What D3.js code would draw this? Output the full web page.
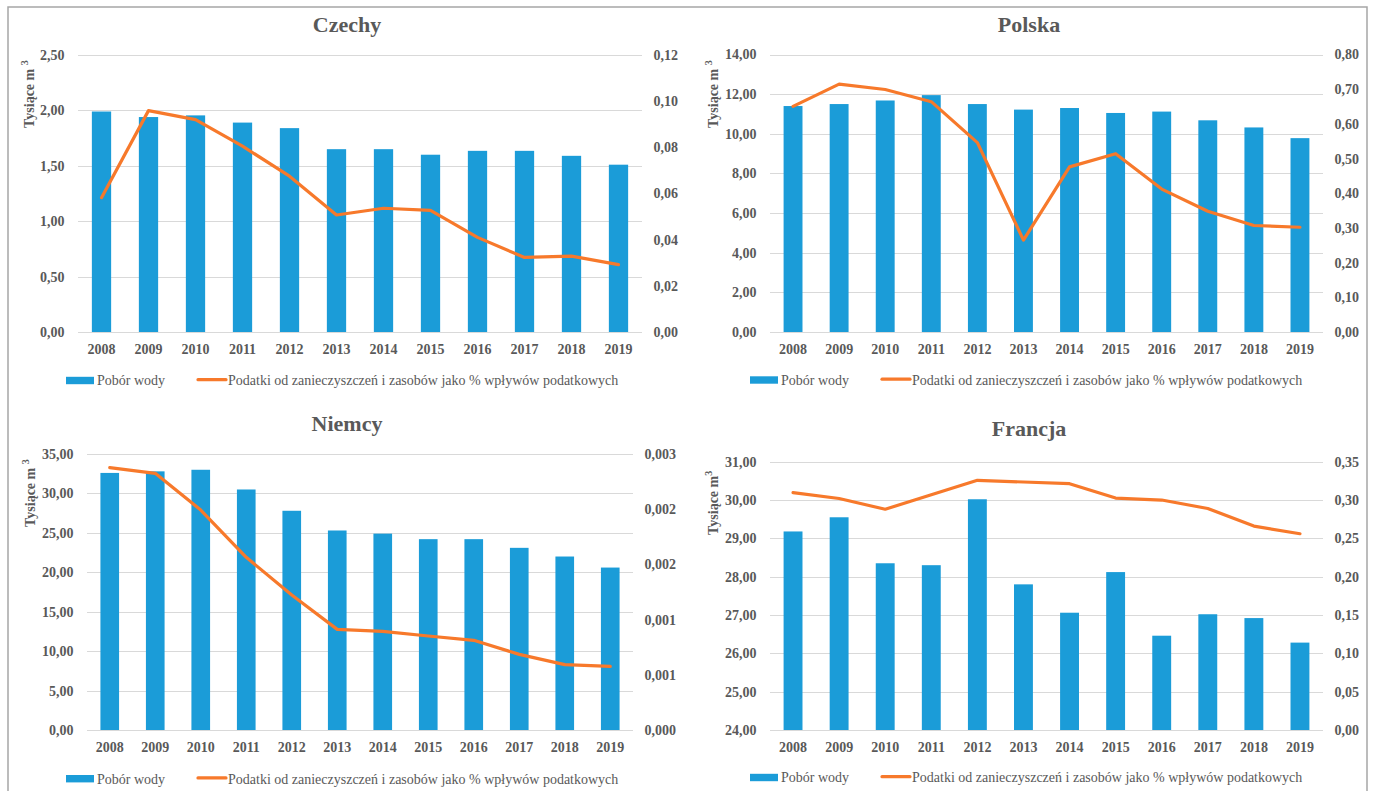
<!DOCTYPE html>
<html><head><meta charset="utf-8">
<script src="https://cdn.jsdelivr.net/npm/d3@7"></script>
<style>body{margin:0;background:#fff;} svg{display:block}</style>
</head><body><svg id="c" width="1373" height="791"></svg>
<script>
const years = ["2008","2009","2010","2011","2012","2013","2014","2015","2016","2017","2018","2019"];

const czWater = [1.99,1.94,1.955,1.89,1.84,1.65,1.65,1.60,1.635,1.635,1.59,1.51];
const czTax   = [0.0582,0.0959,0.0920,0.0805,0.0675,0.0507,0.0536,0.0527,0.0410,0.0323,0.0329,0.0292];
const plWater = [11.4,11.5,11.68,11.95,11.5,11.22,11.3,11.05,11.12,10.68,10.32,9.78];
const plTax   = [0.6505,0.7147,0.699,0.664,0.546,0.265,0.476,0.514,0.412,0.348,0.307,0.302];
const deWater = [32.6,32.8,33.0,30.5,27.8,25.3,24.9,24.2,24.2,23.1,22.0,20.6];
const deTax   = [0.002851,0.00279,0.002391,0.001877,0.001467,0.001094,0.001072,0.001022,0.000975,0.000822,0.00071,0.000692];
const frWater = [29.18,29.55,28.35,28.3,30.02,27.8,27.06,28.12,26.46,27.02,26.92,26.28];
const frTax   = [0.3096,0.302,0.288,0.307,0.3257,0.3235,0.3213,0.3026,0.300,0.289,0.266,0.256];

const czLeftTicks  = [0,0.5,1.0,1.5,2.0,2.5];
const czRightTicks = [0,0.02,0.04,0.06,0.08,0.10,0.12];
const plLeftTicks  = [0,2,4,6,8,10,12,14];
const plRightTicks = [0,0.1,0.2,0.3,0.4,0.5,0.6,0.7,0.8];
const deLeftTicks  = [0,5,10,15,20,25,30,35];
const deRightTicks = [0,0.0006,0.0012,0.0018,0.0024,0.003];
const frLeftTicks  = [24,25,26,27,28,29,30,31];
const frRightTicks = [0,0.05,0.10,0.15,0.20,0.25,0.30,0.35];

const titles = ["Czechy","Polska","Niemcy","Francja"];
const legendLabels = ["Pobór wody","Podatki od zanieczyszczeń i zasobów jako % wpływów podatkowych"];

const BLUE = "#1b9cd8", ORANGE = "#f7792b", GRAY = "#595959", GRID = "#d9d9d9";

const panels = [
  {title:titles[0], water:czWater, tax:czTax, lt:czLeftTicks, rt:czRightTicks, ld:[0,2.5], rd:[0,0.12], lf:2, rf:2,
   x0:78, x1:642, y0:55, y1:332, tx:347, ty:32, legX:66, legY:380.5, ytX:34, ytY:128, ytText:"Tysiące m ", sup:"3"},
  {title:titles[1], water:plWater, tax:plTax, lt:plLeftTicks, rt:plRightTicks, ld:[0,14], rd:[0,0.8], lf:2, rf:2,
   x0:770, x1:1323, y0:54.5, y1:332, tx:1029, ty:32, legX:750, legY:380, ytX:718, ytY:128, ytText:"Tysiące m ", sup:"3"},
  {title:titles[2], water:deWater, tax:deTax, lt:deLeftTicks, rt:deRightTicks, ld:[0,35], rd:[0,0.003], lf:2, rf:3,
   x0:87, x1:633, y0:454, y1:730, tx:347, ty:431, legX:66, legY:778.7, ytX:35, ytY:527, ytText:"Tysiące m ", sup:"3"},
  {title:titles[3], water:frWater, tax:frTax, lt:frLeftTicks, rt:frRightTicks, ld:[24,31], rd:[0,0.35], lf:2, rf:2,
   x0:770, x1:1323, y0:461.7, y1:730, tx:1029, ty:436, legX:750, legY:777.5, ytX:718, ytY:535, ytText:"Tysiące  m", sup:"3"}
];

const svg = d3.select("#c");
svg.append("rect").attr("x",8).attr("y",7).attr("width",1359).attr("height",800)
  .attr("fill","none").attr("stroke","#a6a6a6").attr("stroke-width",1.5);

const fmt = (d, n) => d3.format("." + n + "f")(d).replace(".", ",");
const serif = "'Liberation Serif','Times New Roman',serif";

panels.forEach(p => {
  const g = svg.append("g");
  const x = d3.scaleBand().domain(years).range([p.x0, p.x1]).padding(0);
  const yl = d3.scaleLinear().domain(p.ld).range([p.y1, p.y0]);
  const yr = d3.scaleLinear().domain(p.rd).range([p.y1, p.y0]);

  // gridlines
  g.append("g").selectAll("line").data(p.lt).join("line")
    .attr("x1", p.x0).attr("x2", p.x1)
    .attr("y1", d => Math.round(yl(d)) + 0.5).attr("y2", d => Math.round(yl(d)) + 0.5)
    .attr("stroke", GRID).attr("stroke-width", 1);

  // left axis
  const la = d3.axisLeft(yl).tickValues(p.lt).tickFormat(d => fmt(d, p.lf)).tickSize(0).tickPadding(13.5);
  const lag = g.append("g").attr("transform", `translate(${p.x0},0)`).call(la);
  lag.select(".domain").remove();
  // right axis
  const ra = d3.axisRight(yr).tickValues(p.rt).tickFormat(d => fmt(d, p.rf)).tickSize(0).tickPadding(11.5);
  const rag = g.append("g").attr("transform", `translate(${p.x1},0)`).call(ra);
  rag.select(".domain").remove();
  // bottom axis
  const ba = d3.axisBottom(x).tickSize(0).tickPadding(12);
  const bag = g.append("g").attr("transform", `translate(0,${p.y1})`).call(ba);
  bag.select(".domain").remove();

  g.selectAll(".tick text").attr("font-family", serif).attr("font-weight", "bold")
    .attr("font-size", "14px").attr("fill", GRAY);

  // bars
  const bw = x.bandwidth() * 0.41;
  g.append("g").selectAll("rect").data(p.water).join("rect")
    .attr("x", (d, i) => x(years[i]) + x.bandwidth() / 2 - bw / 2)
    .attr("width", bw)
    .attr("y", d => yl(d))
    .attr("height", d => yl(p.ld[0]) - yl(d))
    .attr("fill", BLUE);

  // baseline
  g.append("line").attr("x1", p.x0).attr("x2", p.x1)
    .attr("y1", Math.round(p.y1) + 0.5).attr("y2", Math.round(p.y1) + 0.5)
    .attr("stroke", GRID).attr("stroke-width", 1.2);

  // line
  const line = d3.line().x((d, i) => x(years[i]) + x.bandwidth() / 2).y(d => yr(d));
  g.append("path").datum(p.tax).attr("d", line)
    .attr("fill", "none").attr("stroke", ORANGE).attr("stroke-width", 3.2)
    .attr("stroke-linejoin", "round").attr("stroke-linecap", "round");

  // title
  g.append("text").attr("x", p.tx).attr("y", p.ty).attr("text-anchor", "middle")
    .attr("font-family", serif).attr("font-weight", "bold").attr("font-size", "22px")
    .attr("fill", GRAY).text(p.title);

  // y axis title
  const yt = g.append("text").attr("transform", `translate(${p.ytX},${p.ytY}) rotate(-90)`)
    .attr("font-family", serif).attr("font-weight", "bold").attr("font-size", "14px").attr("fill", GRAY);
  yt.append("tspan").text(p.ytText);
  yt.append("tspan").attr("dy", -6).attr("font-size", "10px").text(p.sup);

  // legend
  const lg = g.append("g");
  lg.append("rect").attr("x", p.legX).attr("y", p.legY - 3.7).attr("width", 28).attr("height", 7.4).attr("fill", BLUE);
  lg.append("text").attr("x", p.legX + 31).attr("y", p.legY + 4.8)
    .attr("font-family", serif).attr("font-size", "14px").attr("fill", GRAY).text(legendLabels[0]);
  lg.append("line").attr("x1", p.legX + 132).attr("x2", p.legX + 160).attr("y1", p.legY - 0.8).attr("y2", p.legY - 0.8)
    .attr("stroke", ORANGE).attr("stroke-width", 3.2).attr("stroke-linecap", "round");
  lg.append("text").attr("x", p.legX + 162).attr("y", p.legY + 4.8)
    .attr("font-family", serif).attr("font-size", "14px").attr("fill", GRAY).text(legendLabels[1]);
});
</script>
</body></html>
